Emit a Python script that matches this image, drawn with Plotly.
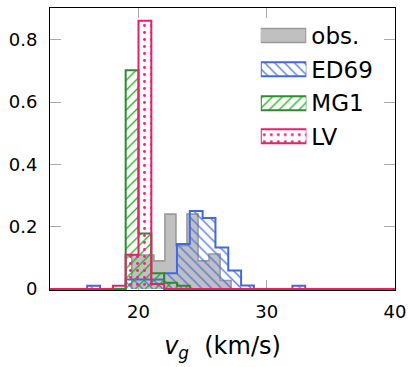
import plotly.graph_objects as go

# Histogram bins for the model runs: unit-width bins from 13 to 40 km/s
model_bin_left = [13, 14, 15, 16, 17, 18, 19, 20, 21, 22, 23, 24, 25, 26,
                  27, 28, 29, 30, 31, 32, 33, 34, 35, 36, 37, 38, 39]
model_bin_right_end = 40

ed69 = [0, 0, 0, 0.01, 0, 0, 0.03, 0.03, 0.03, 0.05, 0.144, 0.25, 0.228, 0.133,
        0.059, 0.011, 0, 0, 0, 0.01, 0, 0, 0, 0, 0, 0, 0]
mg1 = [0, 0, 0, 0, 0, 0, 0.702, 0.178, 0.05, 0.02, 0.01, 0, 0, 0,
       0, 0, 0, 0, 0, 0, 0, 0, 0, 0, 0, 0, 0]
lv = [0, 0, 0, 0, 0, 0.01, 0.11, 0.861, 0.016, 0, 0, 0, 0, 0,
      0, 0, 0, 0, 0, 0, 0, 0, 0, 0, 0, 0, 0]

# Observed distribution (density-normalised, its own bin edges)
obs_edges = [19.48, 20.34, 21.20, 22.06, 22.92, 23.78, 24.64, 25.50, 26.36, 27.22]
obs = [0.109, 0.109, 0.09, 0.24, 0.139, 0.24, 0.09, 0.112, 0.027]

series_names = ["obs.", "ED69", "MG1", "LV"]

FONT = "DejaVu Sans"
GREY_FILL = "#c0c0c0"
GREY_LINE = "#9a9a9a"
BLUE_LINE = "#4169e1"
BLUE_HATCH = "#4a72e6"
GREEN_LINE = "#2f8a2f"
GREEN_HATCH = "#12b512"
PINK_LINE = "#ea1f68"
PINK_DOT = "#ff1a8c"


def step_xy(left_edges, right_end, values):
    """Outline of a histogram as 'hv' step points, closed to zero at both ends."""
    xs = [left_edges[0]] + list(left_edges) + [right_end]
    ys = [0] + list(values) + [0]
    return xs, ys


fig = go.Figure()

# observed: solid grey
ox, oy = step_xy(obs_edges[:-1], obs_edges[-1], obs)
fig.add_trace(go.Scatter(
    x=ox, y=oy, mode="lines", line=dict(shape="hv", color=GREY_LINE, width=1.6),
    fill="tozeroy", fillcolor=GREY_FILL, showlegend=False, hoverinfo="skip"))

styles = [
    (ed69, BLUE_LINE, BLUE_HATCH, "\\", 7, 0.18),
    (mg1, GREEN_LINE, GREEN_HATCH, "/", 7, 0.18),
    (lv, PINK_LINE, PINK_DOT, ".", 7, 0.14),
]
for vals, lc, pc, shape, size, sol in styles:
    sx, sy = step_xy(model_bin_left, model_bin_right_end, vals)
    fig.add_trace(go.Scatter(
        x=sx, y=sy, mode="lines", line=dict(shape="hv", color=lc, width=2),
        fill="tozeroy", fillcolor="rgba(0,0,0,0)",
        fillpattern=dict(shape=shape, fgcolor=pc, bgcolor="rgba(0,0,0,0)",
                         fillmode="replace", size=size, solidity=sol),
        showlegend=False, hoverinfo="skip"))

# legend swatches drawn as bars on a small auxiliary axis pair
legend_fill = [GREY_FILL, "white", "white", "white"]
legend_line = [GREY_LINE, BLUE_LINE, GREEN_LINE, PINK_LINE]
legend_pat = ["", "\\", "/", "."]
legend_pat_col = [GREY_FILL, BLUE_HATCH, GREEN_HATCH, PINK_DOT]
legend_sol = [0.3, 0.18, 0.18, 0.14]
for name, fc, lc, pat, pc, sol in zip(series_names, legend_fill, legend_line,
                                       legend_pat, legend_pat_col, legend_sol):
    fig.add_trace(go.Bar(
        x=[1], y=[name], orientation="h", width=0.43, xaxis="x2", yaxis="y2",
        marker=dict(color=fc, line=dict(color=lc, width=1.6 if name == "obs." else 2),
                    pattern=dict(shape=pat, fgcolor=pc, bgcolor="white",
                                 fillmode="replace", size=7, solidity=sol)),
        showlegend=False, hoverinfo="skip"))

fig.update_layout(
    width=408, height=367,
    margin=dict(l=50, r=13, t=8, b=77, autoexpand=False),
    paper_bgcolor="white", plot_bgcolor="white",
    font=dict(family=FONT, size=18, color="black"),
    showlegend=False,
    xaxis=dict(
        range=[13.1, 40], tickvals=[20, 30, 40], ticktext=["20", "30", "40"],
        ticks="inside", ticklen=10, tickwidth=1, tickcolor="#aaaaaa",
        showline=True, linecolor="black", linewidth=1, mirror="ticks",
        showgrid=False, zeroline=False, ticklabelstandoff=5,
        tickfont=dict(size=18), automargin=False, layer="below traces",
        title=dict(text="<i>v</i><sub><i>g</i></sub>&nbsp;&nbsp;(km/s)",
                   font=dict(size=24), standoff=16),
    ),
    yaxis=dict(
        range=[-0.0035, 0.902], tickvals=[0, 0.2, 0.4, 0.6, 0.8],
        ticktext=["0", "0.2", "0.4", "0.6", "0.8"],
        ticks="inside", ticklen=11, tickwidth=1, tickcolor="#aaaaaa",
        showline=True, linecolor="black", linewidth=1, mirror="ticks",
        showgrid=False, zeroline=False, ticklabelstandoff=8,
        tickfont=dict(size=18), automargin=False, layer="below traces",
    ),
    xaxis2=dict(domain=[0.611, 0.743], range=[0, 1], anchor="y2",
                visible=False, fixedrange=True, automargin=False),
    yaxis2=dict(domain=[0.485, 0.960], anchor="x2", side="right",
                categoryorder="array", categoryarray=series_names,
                autorange="reversed", showgrid=False, zeroline=False,
                showline=False, ticks="", ticklabelstandoff=4,
                tickfont=dict(size=23), fixedrange=True, automargin=False),
    bargap=0,
)

fig.write_html("out.html")
